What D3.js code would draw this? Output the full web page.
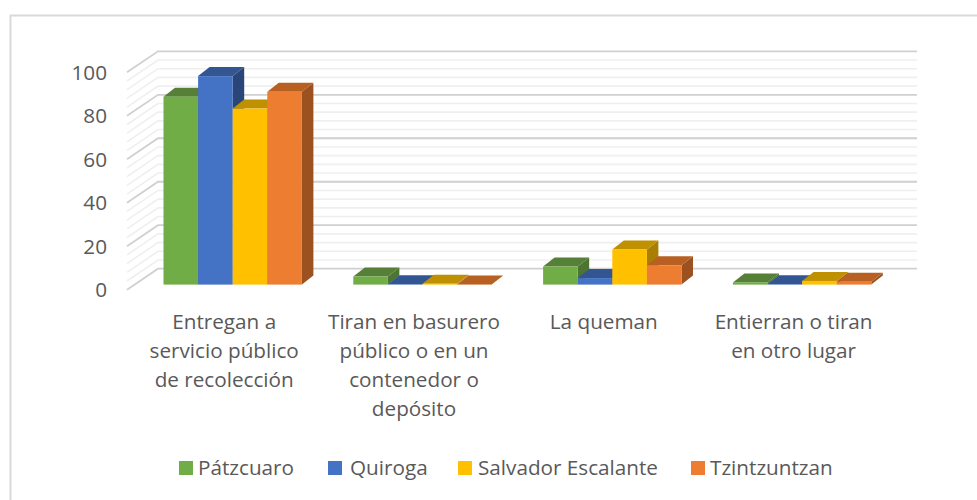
<!DOCTYPE html>
<html><head><meta charset="utf-8"><script src="https://cdn.jsdelivr.net/npm/d3@7"></script>
<style>html,body{margin:0;background:#fff}svg{display:block}text{font-family:"Open Sans",sans-serif;fill:#595959}</style></head>
<body><svg id="c" width="977" height="500"></svg>
<script>
const categories=[["Entregan a","servicio público","de recolección"],["Tiran en basurero","público o en un","contenedor o","depósito"],["La queman"],["Entierran o tiran","en otro lugar"]];
const seriesNames=["Pátzcuaro","Quiroga","Salvador Escalante","Tzintzuntzan"];
const patzcuaro=[86.4,3.7,8.3,1];
const quiroga=[95.9,0.2,3,0.2];
const salvador=[81,0.4,16.1,1.7];
const tzintzuntzan=[88.7,0.1,8.9,1.3];
const seriesValues=[patzcuaro,quiroga,salvador,tzintzuntzan];
const colors=["#70ad47","#4472c4","#ffc000","#ed7d31"];
const tops=["#567f37","#335592","#bf9000","#b85f22"];
const sides=["#4c7531","#2a4679","#a87f00","#9b5220"];
const yTicks=[0,20,40,60,80,100];
const minorTicks=d3.range(0,101,4);

const svg=d3.select("#c");
svg.append("path").attr("d","M10.5,500V15.5H977").attr("fill","none").attr("stroke","#d9d9d9").attr("stroke-width",2);
const wall=d3.scaleLinear().domain([0,100]).range([268.7,51.3]);
const xBack=d3.scaleLinear().domain([0,4]).range([158,917]);
const wallDX=31,wallDY=21;
const g=svg.append("g");
minorTicks.forEach(v=>{
  const maj=v%20===0;
  const col=maj?"#d0d0d0":"#efefef", w=maj?1.8:1.6;
  g.append("path").attr("d",d3.line()([[xBack(0)-wallDX,wall(v)+wallDY],[xBack(0),wall(v)],[xBack(4),wall(v)]]))
   .attr("fill","none").attr("stroke",col).attr("stroke-width",w);
});
const yAxis=d3.scaleLinear().domain([0,100]).range([290,72.6]);
svg.append("g").selectAll("text").data(yTicks).join("text")
  .attr("x",107).attr("y",d=>yAxis(d)).attr("dy","0.35em").attr("text-anchor","end").attr("font-size",20.7).text(d=>d);

const band=d3.scaleBand().domain(d3.range(4)).range([137.8,137.8+189.8*4]).paddingInner(0).paddingOuter(0);
const inner=d3.scaleBand().domain(d3.range(4)).range([25.7,25.7+138.4]);
const h=v=>v*2.174, base=284.6, dx=11.5, dy=9;
const bars=svg.append("g");
categories.forEach((c,ci)=>{
  seriesValues.forEach((vals,si)=>{
    const x0=band(ci)+inner(si), x1=x0+inner.bandwidth(), top=base-h(vals[ci]);
    const b=bars.append("g");
    b.append("path").attr("fill",sides[si]).attr("d",d3.line()([[x1,base],[x1+dx,base-dy],[x1+dx,top-dy],[x1,top]])+"Z");
    b.append("path").attr("fill",tops[si]).attr("d",d3.line()([[x0,top],[x0+dx,top-dy],[x1+dx,top-dy],[x1,top]])+"Z");
    b.append("rect").attr("x",x0).attr("y",top).attr("width",x1-x0).attr("height",base-top).attr("fill",colors[si]);
  });
});
categories.forEach((lines,ci)=>{
  const cx=band(ci)+band.bandwidth()/2-8.5;
  svg.append("g").selectAll("text").data(lines).join("text").attr("x",cx).attr("y",(d,i)=>329+i*29)
    .attr("text-anchor","middle").attr("font-size",20.7).text(d=>d);
});
const legendX=[179,328,458,691], legendT=[198,350,478,710];
seriesNames.forEach((n,i)=>{
  svg.append("rect").attr("x",legendX[i]).attr("y",461).attr("width",14).attr("height",14).attr("fill",colors[i]);
  svg.append("text").attr("x",legendT[i]).attr("y",475).attr("font-size",20.7).text(n);
});
</script></body></html>
